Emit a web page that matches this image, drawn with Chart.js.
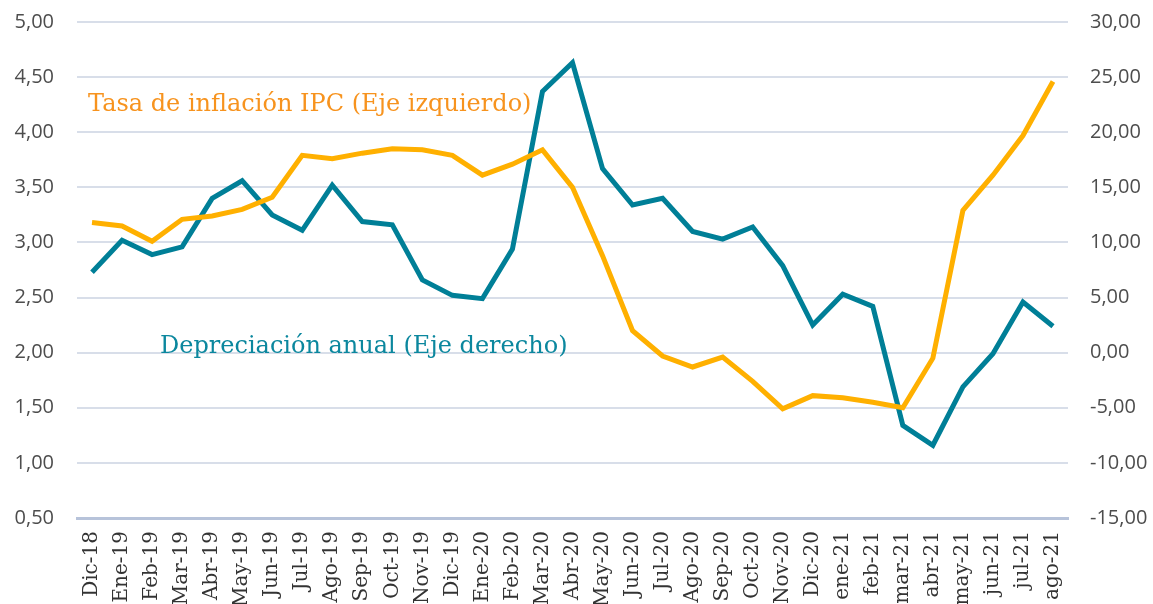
<!DOCTYPE html>
<html>
<head>
<meta charset="utf-8">
<script src="https://cdn.jsdelivr.net/npm/chart.js@4/dist/chart.umd.min.js"></script>
<style>
  html, body { margin: 0; padding: 0; background: #fff; }
  #wrap { width: 1153px; height: 604px; }
</style>
</head>
<body>
<div id="wrap"><canvas id="chart"></canvas></div>
<script>
// --- datos ---
const meses = ['Dic-18', 'Ene-19', 'Feb-19', 'Mar-19', 'Abr-19', 'May-19', 'Jun-19', 'Jul-19', 'Ago-19',
  'Sep-19', 'Oct-19', 'Nov-19', 'Dic-19', 'Ene-20', 'Feb-20', 'Mar-20', 'Abr-20', 'May-20', 'Jun-20',
  'Jul-20', 'Ago-20', 'Sep-20', 'Oct-20', 'Nov-20', 'Dic-20', 'ene-21', 'feb-21', 'mar-21', 'abr-21',
  'may-21', 'jun-21', 'jul-21', 'ago-21'];

const inflacionIPC = [3.18, 3.15, 3.01, 3.21, 3.24, 3.30, 3.41, 3.79, 3.76, 3.81, 3.85, 3.84, 3.79,
  3.61, 3.71, 3.84, 3.50, 2.88, 2.20, 1.97, 1.87, 1.96, 1.74, 1.49, 1.61, 1.59, 1.55, 1.50, 1.95,
  3.29, 3.61, 3.97, 4.46];

const depreciacion = [7.3, 10.2, 8.9, 9.6, 14.0, 15.6, 12.5, 11.1, 15.2, 11.9, 11.6, 6.6, 5.2, 4.9,
  9.4, 23.7, 26.3, 16.7, 13.4, 14.0, 11.0, 10.3, 11.4, 7.9, 2.5, 5.3, 4.2, -6.6, -8.4, -3.1, -0.1,
  4.6, 2.4];

const etiquetaIPC = 'Tasa de inflación IPC (Eje izquierdo)';
const etiquetaDep = 'Depreciación anual (Eje derecho)';

const naranja = '#ffb000';
const azul = '#007f97';

const fmt = v => v.toFixed(2).replace('.', ',');

// etiquetas de series dentro del área
const seriesLabels = {
  id: 'seriesLabels',
  afterDatasetsDraw(chart) {
    const { ctx, chartArea, scales } = chart;
    ctx.save();
    ctx.font = '24px "DejaVu Serif"';
    ctx.textBaseline = 'middle';
    ctx.fillStyle = '#f7931e';
    ctx.fillText(etiquetaIPC, chartArea.left + 11, scales.y.getPixelForValue(4.25));
    ctx.fillStyle = '#0b879e';
    ctx.fillText(etiquetaDep, chartArea.left + 83, scales.y.getPixelForValue(2.05));
    ctx.restore();
  }
};

// el padding de las marcas no debe empujar el área hacia abajo
const fitVertical = w => s => {
  s.width = w;
  s.paddingTop = 0;
  s.paddingBottom = 0;
};

new Chart(document.getElementById('chart'), {
  type: 'line',
  data: {
    labels: meses,
    datasets: [
      {
        label: etiquetaIPC,
        data: inflacionIPC,
        yAxisID: 'y',
        borderColor: naranja,
        borderWidth: 5,
        pointRadius: 0,
        tension: 0,
        fill: false
      },
      {
        label: etiquetaDep,
        data: depreciacion,
        yAxisID: 'y1',
        borderColor: azul,
        borderWidth: 5,
        pointRadius: 0,
        tension: 0,
        fill: false
      }
    ]
  },
  options: {
    responsive: true,
    maintainAspectRatio: false,
    animation: false,
    layout: { padding: { top: 22, right: 0, left: 0, bottom: 0 } },
    plugins: { legend: { display: false }, tooltip: { enabled: false } },
    scales: {
      x: {
        offset: true,
        grid: { display: false, drawTicks: false },
        border: { display: true, color: '#b7c3da', width: 3 },
        ticks: {
          autoSkip: false,
          maxRotation: 90,
          minRotation: 90,
          padding: 13,
          color: '#333',
          font: { family: 'DejaVu Serif', size: 20 }
        },
        afterFit: s => { s.height = 86; }
      },
      y: {
        position: 'left',
        min: 0.5,
        max: 5,
        grid: { color: '#d8dee9', lineWidth: 2, drawTicks: false },
        border: { display: false },
        ticks: {
          stepSize: 0.5,
          padding: 23,
          color: '#4d4d4d',
          font: { family: 'Open Sans', size: 20 },
          callback: v => fmt(v)
        },
        afterFit: fitVertical(77)
      },
      y1: {
        position: 'right',
        min: -15,
        max: 30,
        grid: { display: false, drawTicks: false },
        border: { display: false },
        ticks: {
          stepSize: 5,
          padding: 22,
          color: '#4d4d4d',
          font: { family: 'Open Sans', size: 20 },
          callback: v => fmt(v)
        },
        afterFit: fitVertical(85)
      }
    }
  },
  plugins: [seriesLabels]
});
</script>
</body>
</html>
